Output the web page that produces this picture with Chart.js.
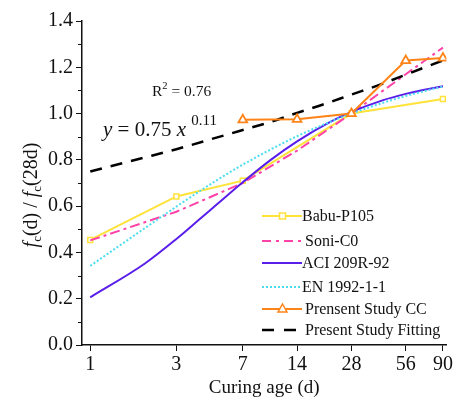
<!DOCTYPE html>
<html>
<head>
<meta charset="utf-8">
<script src="https://cdn.jsdelivr.net/npm/chart.js@4.4.1/dist/chart.umd.min.js"></script>
<style>
  html, body { margin: 0; padding: 0; background: #fff; }
  #wrap { width: 455px; height: 399px; }
</style>
</head>
<body>
<div id="wrap"><canvas id="strengthChart" width="455" height="399"></canvas></div>
<script>
// curing ages shown on the log axis
var ageTicks = [1, 3, 7, 14, 28, 56, 90];
var strengthTicks = [0, 0.2, 0.4, 0.6, 0.8, 1.0, 1.2, 1.4];

// Babu-P105
var babuAge = [1, 3, 7, 28, 90];
var babuRatio = [0.454, 0.642, 0.71, 1.0, 1.063];

// Soni-C0
var soniAge = [1, 3, 7, 14, 28, 56, 90];
var soniRatio = [0.452, 0.576, 0.70, 0.84, 1.0, 1.17, 1.285];

// ACI 209R-92
var aciAge = [1, 2, 3, 4, 5, 6, 7, 10, 14, 21, 28, 42, 56, 70, 90];
var aciRatio = [0.206, 0.351, 0.458, 0.541, 0.606, 0.659, 0.703, 0.80, 0.88, 0.961, 1.007, 1.058, 1.085, 1.102, 1.118];

// EN 1992-1-1
var enAge = [1, 2, 3, 5, 7, 10, 14, 21, 28, 42, 56, 70, 90];
var enRatio = [0.342, 0.504, 0.598, 0.711, 0.779, 0.845, 0.902, 0.962, 1.0, 1.047, 1.076, 1.096, 1.117];

// Present Study CC
var ccAge = [7, 14, 28, 56, 90];
var ccRatio = [0.973, 0.975, 1.0, 1.229, 1.240];

// Present Study Fitting, y = 0.75 x^0.11
var fitAge = [1, 2, 3, 5, 7, 10, 14, 20, 28, 40, 56, 90];
var fitRatio = [0.75, 0.81, 0.846, 0.896, 0.929, 0.964, 1.003, 1.042, 1.082, 1.124, 1.168, 1.230];

function pts(xs, ys) {
    return xs.map(function (x, i) { return { x: x, y: ys[i] }; });
}

var serif = '"Liberation Serif", "DejaVu Serif", serif';

// legend drawn by hand so each entry keeps its dash pattern and marker
var legendPlugin = {
    id: 'handLegend',
    afterDraw: function (chart) {
        var c = chart.ctx;
        var rows = [216, 241, 263, 287, 309, 330];
        var x0 = 262, x1 = 302;
        chart.data.datasets.forEach(function (ds, i) {
            var y = rows[i];
            c.save();
            c.strokeStyle = ds.borderColor;
            c.lineWidth = ds.borderWidth;
            c.setLineDash(ds.legendDash || ds.borderDash || []);
            c.beginPath();
            c.moveTo(x0, y);
            c.lineTo(x1, y);
            c.stroke();
            c.setLineDash([]);
            if (ds.pointStyle === 'rect') {
                c.fillStyle = '#fff';
                c.lineWidth = 1.5;
                c.fillRect(x0 + 17.5, y - 3, 6, 6);
                c.strokeRect(x0 + 17.5, y - 3, 6, 6);
            } else if (ds.pointStyle === 'triangle') {
                c.fillStyle = '#fff';
                c.lineWidth = 1.5;
                c.beginPath();
                c.moveTo(x0 + 20.5, y - 5);
                c.lineTo(x0 + 25, y + 3);
                c.lineTo(x0 + 16, y + 3);
                c.closePath();
                c.fill();
                c.stroke();
            }
            c.fillStyle = '#111';
            c.font = '16px ' + serif;
            c.textBaseline = 'middle';
            c.fillText(ds.label, x1 + (ds.labelShift || 0), y + 1);
            c.restore();
        });
    }
};

// minor ticks, axis title and the fitting equation
var textPlugin = {
    id: 'extraText',
    afterDraw: function (chart) {
        var c = chart.ctx;
        var ys = chart.scales.y;
        c.save();
        c.strokeStyle = '#111';
        c.lineWidth = 1;
        for (var v = 0.1; v < 1.4; v += 0.2) {
            var py = Math.round(ys.getPixelForValue(v)) + 0.5;
            c.beginPath();
            c.moveTo(ys.right - 4, py);
            c.lineTo(ys.right, py);
            c.stroke();
        }

        c.fillStyle = '#111';
        c.textBaseline = 'alphabetic';

        // R² annotation
        var x = 152, y = 96;
        c.font = '15.5px ' + serif;
        c.fillText('R', x, y);
        x += c.measureText('R').width;
        c.font = '10.5px ' + serif;
        c.fillText('2', x, y - 7);
        x += c.measureText('2').width;
        c.font = '15.5px ' + serif;
        c.fillText(' = 0.76', x, y);

        // fitted equation
        x = 103; y = 136;
        c.font = 'italic 21px ' + serif;
        c.fillText('y', x, y);
        x += c.measureText('y').width;
        c.font = '21px ' + serif;
        c.fillText(' = 0.75 ', x, y);
        x += c.measureText(' = 0.75 ').width;
        c.font = 'italic 21px ' + serif;
        c.fillText('x', x, y);
        x += c.measureText('x ').width;
        c.font = '15px ' + serif;
        c.fillText('0.11', x, y - 11);

        // y axis title with subscripts
        var parts = [
            ['italic 20px ', 'f', 0],
            ['13px ', 'c', 4],
            ['20px ', '(d) / ', 0],
            ['italic 20px ', 'f', 0],
            ['13px ', 'c', 4],
            ['20px ', '(28d)', 0]
        ];
        var total = 0;
        parts.forEach(function (p) { c.font = p[0] + serif; total += c.measureText(p[1]).width; });
        c.translate(37, 195);
        c.rotate(-Math.PI / 2);
        var tx = -total / 2;
        parts.forEach(function (p) {
            c.font = p[0] + serif;
            c.fillText(p[1], tx, p[2]);
            tx += c.measureText(p[1]).width;
        });
        c.restore();
    }
};

var ctx = document.getElementById('strengthChart').getContext('2d');
var strengthChart = new Chart(ctx, {
    type: 'line',
    data: {
        datasets: [{
            label: 'Babu-P105',
            data: pts(babuAge, babuRatio),
            borderColor: '#FFE23A',
            backgroundColor: '#fff',
            borderWidth: 2,
            pointStyle: 'rect',
            pointRadius: 3.5,
            pointBorderWidth: 1.5,
            order: 5
        }, {
            label: 'Soni-C0',
            data: pts(soniAge, soniRatio),
            borderColor: '#FF42A8',
            borderWidth: 2,
            borderDash: [10, 4, 3, 4],
            legendDash: [9, 5, 3, 5],
            pointRadius: 0,
            labelShift: 3,
            order: 4
        }, {
            label: 'ACI 209R-92',
            data: pts(aciAge, aciRatio),
            borderColor: '#5A1EEB',
            borderWidth: 2,
            pointRadius: 0,
            cubicInterpolationMode: 'monotone',
            order: 3
        }, {
            label: 'EN 1992-1-1',
            data: pts(enAge, enRatio),
            borderColor: '#4ADDF0',
            borderWidth: 2,
            borderDash: [2, 2],
            pointRadius: 0,
            cubicInterpolationMode: 'monotone',
            order: 2
        }, {
            label: 'Prensent Study CC',
            data: pts(ccAge, ccRatio),
            borderColor: '#FF8418',
            backgroundColor: '#fff',
            borderWidth: 2,
            pointStyle: 'triangle',
            pointRadius: 5,
            pointBorderWidth: 1.8,
            labelShift: 3,
            order: 0
        }, {
            label: 'Present Study Fitting',
            data: pts(fitAge, fitRatio),
            borderColor: '#000',
            borderWidth: 2.5,
            borderDash: [12, 9],
            legendDash: [12, 10],
            pointRadius: 0,
            cubicInterpolationMode: 'monotone',
            labelShift: 3,
            order: 1
        }]
    },
    options: {
        responsive: false,
        animation: false,
        events: [],
        layout: { padding: { top: 21, right: 8, left: 0, bottom: 0 } },
        plugins: {
            legend: { display: false },
            tooltip: { enabled: false }
        },
        scales: {
            x: {
                type: 'logarithmic',
                min: 0.9,
                max: 94,
                afterBuildTicks: function (scale) {
                    scale.ticks = ageTicks.map(function (v) { return { value: v }; });
                },
                afterFit: function (scale) { scale.height = 54; },
                ticks: {
                    autoSkip: false,
                    maxRotation: 0,
                    color: '#111',
                    padding: 2,
                    font: { family: serif, size: 20 },
                    callback: function (v) { return String(v); }
                },
                grid: { drawOnChartArea: false, tickLength: 6, tickColor: '#111', tickWidth: 1 },
                border: { color: '#111', width: 1.5 },
                title: {
                    display: true,
                    text: 'Curing age (d)',
                    color: '#111',
                    padding: { top: 0, bottom: 0 },
                    font: { family: serif, size: 19 }
                }
            },
            y: {
                min: 0,
                max: 1.4,
                afterBuildTicks: function (scale) {
                    scale.ticks = strengthTicks.map(function (v) { return { value: v }; });
                },
                afterFit: function (scale) { scale.width = 82; },
                ticks: {
                    color: '#111',
                    padding: 3,
                    font: { family: serif, size: 20 },
                    callback: function (v) { return v.toFixed(1); }
                },
                grid: { drawOnChartArea: false, tickLength: 6, tickColor: '#111', tickWidth: 1 },
                border: { color: '#111', width: 1.5 }
            }
        }
    },
    plugins: [legendPlugin, textPlugin]
});
</script>
</body>
</html>
